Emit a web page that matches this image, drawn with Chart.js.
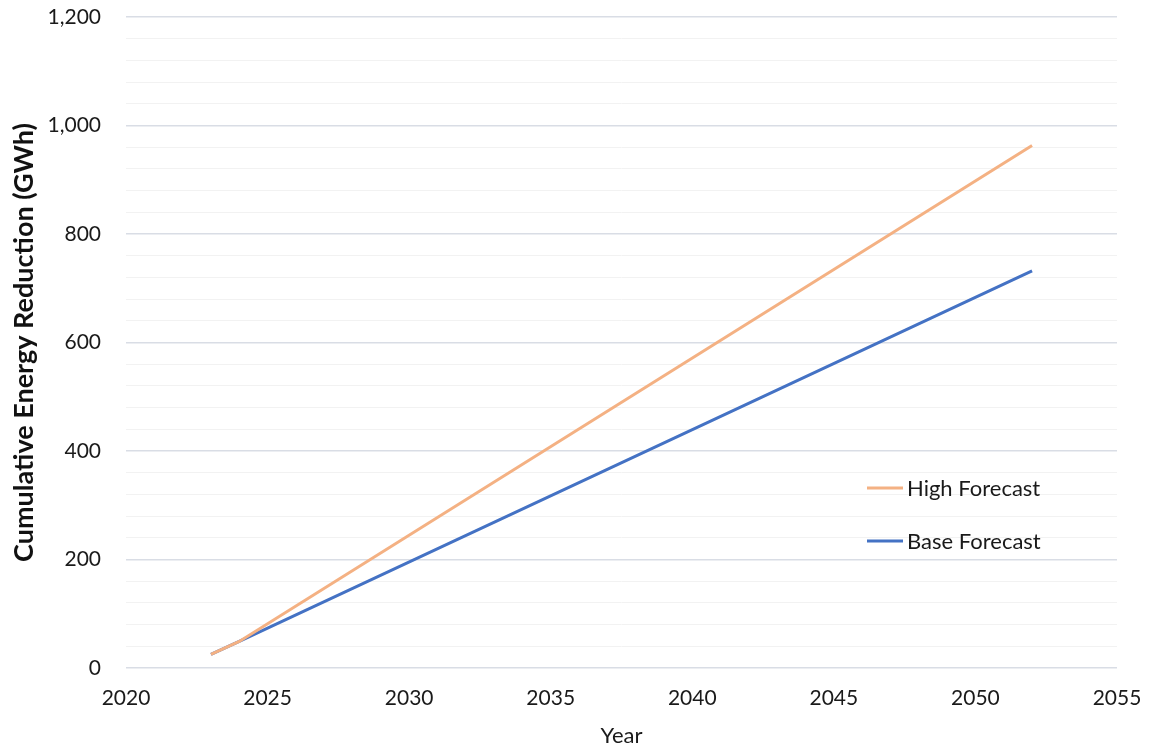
<!DOCTYPE html>
<html>
<head>
<meta charset="utf-8">
<script src="https://cdn.jsdelivr.net/npm/chart.js@4/dist/chart.umd.min.js"></script>
<style>
html,body{margin:0;padding:0;background:#fff;}
#wrap{width:1153px;height:749px;position:relative;}
</style>
</head>
<body>
<div id="wrap"><canvas id="c" width="1153" height="749"></canvas></div>
<script>
const seriesNames = ['High Forecast', 'Base Forecast'];
const highYears = [2023, 2024, 2052];
const highValues = [25, 49, 963];
const baseYears = [2023, 2024, 2052];
const baseValues = [25, 49, 732];
const xTicks = [2020, 2025, 2030, 2035, 2040, 2045, 2050, 2055];
const yMajorTicks = [0, 200, 400, 600, 800, 1000, 1200];
const colors = ['#F4B183', '#4472C4'];

const FONT = "Lato, 'Open Sans', 'DejaVu Sans', sans-serif";
const TXT = '#1a1a1a';

const legendPlugin = {
  id: 'insideLegend',
  afterDraw(chart) {
    const ctx = chart.ctx;
    const items = [[488, 0], [541, 1]];
    ctx.save();
    ctx.font = "22px " + FONT;
    ctx.textBaseline = 'middle';
    ctx.fillStyle = TXT;
    for (const [y, i] of items) {
      ctx.strokeStyle = colors[i];
      ctx.lineWidth = 3;
      ctx.beginPath();
      ctx.moveTo(867, y);
      ctx.lineTo(903, y);
      ctx.stroke();
      ctx.fillText(seriesNames[i], 907, y + 1);
    }
    ctx.restore();
  }
};

new Chart(document.getElementById('c'), {
  type: 'line',
  data: {
    datasets: [
      { label: seriesNames[0], data: highYears.map((x, i) => ({x, y: highValues[i]})), borderColor: colors[0], backgroundColor: colors[0], borderWidth: 3, pointRadius: 0, tension: 0 },
      { label: seriesNames[1], data: baseYears.map((x, i) => ({x, y: baseValues[i]})), borderColor: colors[1], backgroundColor: colors[1], borderWidth: 3, pointRadius: 0, tension: 0 }
    ]
  },
  options: {
    responsive: false,
    animation: false,
    layout: { autoPadding: false, padding: { left: 0, right: 36, top: 17, bottom: 0 } },
    plugins: { legend: { display: false }, tooltip: { enabled: false } },
    scales: {
      x: {
        type: 'linear', min: xTicks[0], max: xTicks[xTicks.length - 1],
        afterBuildTicks: (s) => { s.ticks = xTicks.map(v => ({value: v})); },
        afterFit: (s) => { s.height = 81; s.paddingLeft = 0; s.paddingRight = 0; },
        grid: { display: false, drawTicks: false },
        border: { display: false },
        ticks: { font: { family: FONT, size: 21 }, color: TXT, padding: 18, maxRotation: 0, callback: v => String(v) },
        title: { display: true, text: 'Year', font: { family: FONT, size: 22 }, color: TXT, padding: { top: 6, bottom: 0 } }
      },
      y: {
        min: 0, max: 1200,
        afterBuildTicks: (s) => { const t = []; for (let v = 0; v <= 1200; v += 40) t.push({value: v}); s.ticks = t; },
        afterFit: (s) => { s.width = 126; s.paddingTop = 0; s.paddingBottom = 0; },
        grid: {
          drawTicks: false,
          color: c => yMajorTicks.includes(c.tick.value) ? '#D9DDE5' : '#F2F2F2',
          lineWidth: c => yMajorTicks.includes(c.tick.value) ? 1.5 : 1
        },
        border: { display: false },
        ticks: { autoSkip: false, font: { family: FONT, size: 21 }, color: TXT, padding: 25,
          callback: v => yMajorTicks.includes(v) ? v.toLocaleString('en-US') : '' },
        title: { display: true, text: 'Cumulative Energy Reduction (GWh)', font: { family: FONT, size: 27, weight: 'bold' }, color: '#111', padding: { top: 8, bottom: 0 } }
      }
    }
  },
  plugins: [legendPlugin]
});
</script>
</body>
</html>
